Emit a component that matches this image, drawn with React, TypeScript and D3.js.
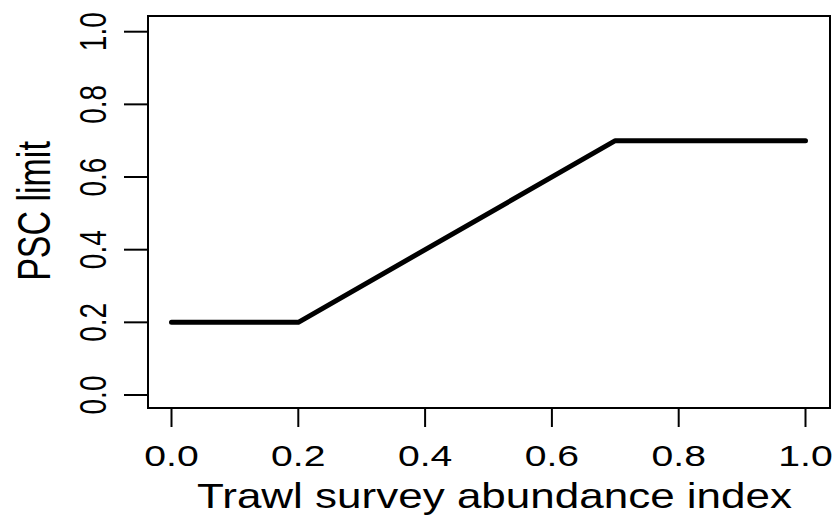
import React from "react";
import * as d3 from "d3";

const xValues = [0, 0.2, 0.7, 1.0];
const yValues = [0.2, 0.2, 0.7, 0.7];
const xTicks = [0, 0.2, 0.4, 0.6, 0.8, 1.0];
const yTicks = [0, 0.2, 0.4, 0.6, 0.8, 1.0];
const xTitle = "Trawl survey abundance index";
const yTitle = "PSC limit";

const W = 836;
const H = 515;
const box = { left: 148, right: 830, top: 16, bottom: 408 };
const SX = 1.35;
const FONT = "'Liberation Sans', Arial, Helvetica, sans-serif";

export default function App() {
  const x = d3.scaleLinear().domain([0, 1]).range([171.5, 805.5]);
  const y = d3.scaleLinear().domain([0, 1]).range([395, 31.7]);
  const pts = xValues.map((v, i) => [v, yValues[i]] as [number, number]);
  const line = d3
    .line<[number, number]>()
    .x((d) => x(d[0]))
    .y((d) => y(d[1]));

  return (
    <svg
      width={W}
      height={H}
      style={{ position: "absolute", left: 0, top: 0, background: "#fff" }}
    >
      <rect x={0} y={0} width={W} height={H} fill="#fff" />
      <rect
        x={box.left}
        y={box.top}
        width={box.right - box.left}
        height={box.bottom - box.top}
        fill="none"
        stroke="#000"
        strokeWidth={2}
      />
      {xTicks.map((t) => (
        <g key={"x" + t}>
          <line x1={x(t)} x2={x(t)} y1={box.bottom} y2={427} stroke="#000" strokeWidth={2} />
          <text
            transform={`translate(${x(t)},466) scale(${SX},1)`}
            textAnchor="middle"
            fontFamily={FONT}
            fontSize={29}
            fill="#000"
          >
            {t.toFixed(1)}
          </text>
        </g>
      ))}
      {yTicks.map((t) => (
        <g key={"y" + t}>
          <line x1={124} x2={box.left} y1={y(t)} y2={y(t)} stroke="#000" strokeWidth={2} />
          <text
            transform={`translate(106,${y(t)}) scale(${SX},1) rotate(-90)`}
            textAnchor="middle"
            fontFamily={FONT}
            fontSize={28}
            fill="#000"
          >
            {t.toFixed(1)}
          </text>
        </g>
      ))}
      <path
        d={line(pts) || ""}
        fill="none"
        stroke="#000"
        strokeWidth={5}
        strokeLinecap="round"
        strokeLinejoin="round"
      />
      <text
        x={494.5}
        y={508}
        textAnchor="middle"
        fontFamily={FONT}
        fontSize={35}
        textLength={595}
        lengthAdjust="spacingAndGlyphs"
        fill="#000"
      >
        {xTitle}
      </text>
      <text
        transform={`translate(50,211) scale(${SX},1) rotate(-90)`}
        textAnchor="middle"
        fontFamily={FONT}
        fontSize={34}
        fill="#000"
      >
        {yTitle}
      </text>
    </svg>
  );
}
